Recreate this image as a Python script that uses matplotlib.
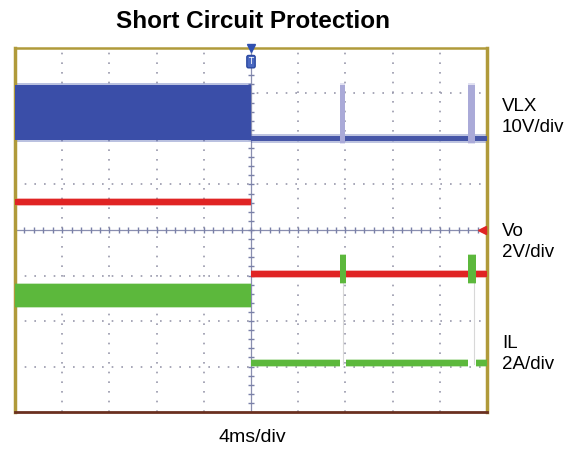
import numpy as np
import matplotlib.pyplot as plt

# time in ms (4 ms/div, 10 div), level in divisions (8 div, 0 at bottom)
# VLX switching node: segments with low/high envelope
vlx_start = [0.0, 20.0, 27.55, 28.0, 38.4, 38.95]
vlx_end = [20.0, 27.55, 28.0, 38.4, 38.95, 40.0]
vlx_low = [5.98, 5.95, 5.92, 5.95, 5.92, 5.95]
vlx_high = [7.19, 6.06, 7.19, 6.06, 7.19, 6.06]
vlx_colors = ['#3a4ea8', '#4656a8', '#aaaad8', '#4656a8', '#aaaad8', '#4656a8']

# Vo output voltage
vo_start = [0.0, 20.0]
vo_end = [20.0, 40.0]
vo_low = [4.56, 2.97]
vo_high = [4.68, 3.09]

# IL inductor current
il_start = [0.0, 20.0, 27.5, 28.05, 38.4, 39.05]
il_end = [20.0, 27.5, 28.05, 38.4, 39.05, 40.0]
il_low = [2.31, 1.01, 2.84, 1.01, 2.84, 1.01]
il_high = [2.81, 1.14, 3.45, 1.14, 3.45, 1.14]
il_restart_t = [27.8, 38.9]

labels = ['VLX\n10V/div', 'Vo\n2V/div', 'IL\n2A/div']
label_y = [0.742, 0.467, 0.22]

fig = plt.figure(figsize=(5.67, 4.54), dpi=100)
ax = fig.add_axes([15 / 567, 1 - 412 / 454, 472 / 567, 364 / 454])
ax.set_xlim(0, 40)
ax.set_ylim(0, 8)
ax.set_xticks([])
ax.set_yticks([])

# graticule
grid_kw = dict(color='#9898ac', lw=1.2, linestyles=(0, (1, 4.8)), zorder=1)
ax.vlines([4, 8, 12, 16, 24, 28, 32, 36], 0, 8, **grid_kw)
ax.hlines([1, 2, 3, 5, 6, 7], 0, 40, **grid_kw)
ax.axvline(20, color='#8a8fb0', lw=0.9, zorder=1)
ax.axhline(4, color='#8a8fb0', lw=0.9, zorder=1)
ax.plot(np.full(39, 20), np.arange(0.2, 8, 0.2), ls='none', marker='_', ms=5, color='#7a80a8', zorder=1)
ax.plot(np.arange(0.8, 40, 0.8), np.full(49, 4), ls='none', marker='|', ms=5, color='#7a80a8', zorder=1)

# traces (soft halo behind each band, then the band)
for s, e, lo, hi, c in zip(vlx_start, vlx_end, vlx_low, vlx_high, vlx_colors):
    ax.fill_between([s, e], lo - 0.04, hi + 0.04, color=c, alpha=0.35, lw=0, zorder=2)
    ax.fill_between([s, e], lo, hi, color=c, lw=0, zorder=3)
for s, e, lo, hi in zip(vo_start, vo_end, vo_low, vo_high):
    ax.fill_between([s, e], lo - 0.03, hi + 0.03, color='#e02424', alpha=0.35, lw=0, zorder=2)
    ax.fill_between([s, e], lo, hi, color='#e02424', lw=0, zorder=3)
for t in il_restart_t:
    ax.plot([t, t], [1.05, 2.9], color='#d8d8d8', lw=0.8, zorder=3)
for s, e, lo, hi in zip(il_start, il_end, il_low, il_high):
    ax.fill_between([s, e], lo - 0.03, hi + 0.03, color='#5cb83c', alpha=0.35, lw=0, zorder=4)
    ax.fill_between([s, e], lo, hi, color='#5cb83c', lw=0, zorder=4)

# markers
ax.plot(20, 8, marker='v', ms=6, color='#3050b0', clip_on=False, zorder=6)
ax.text(20, 7.7, 'T', ha='center', va='center', fontsize=6, color='white', zorder=6,
        bbox=dict(boxstyle='round,pad=0.2', fc='#4a68c0', ec='#2a48a0'))
ax.plot(39.6, 4, marker='<', ms=6, color='#e02424', clip_on=False, zorder=6)

# frame
for side in ['left', 'right', 'top']:
    ax.spines[side].set_color('#b09a3a')
    ax.spines[side].set_linewidth(2.5)
ax.spines['top'].set_linewidth(1.8)
ax.spines['bottom'].set_color('#6a3020')
ax.spines['bottom'].set_linewidth(2.0)

fig.text(253 / 567, 1 - 21 / 454, 'Short Circuit Protection', ha='center', va='center',
         fontsize=17.5, fontweight='bold', family='Liberation Sans')
for lab, y in zip(labels, label_y):
    fig.text(502 / 567, y, lab, ha='left', va='center', fontsize=13.5,
             family='Liberation Sans', linespacing=1.3)
fig.text(252 / 567, 1 - 438 / 454, '4ms/div', ha='center', va='center', fontsize=14,
         family='Liberation Sans')

fig.savefig('out.png', dpi=100)
